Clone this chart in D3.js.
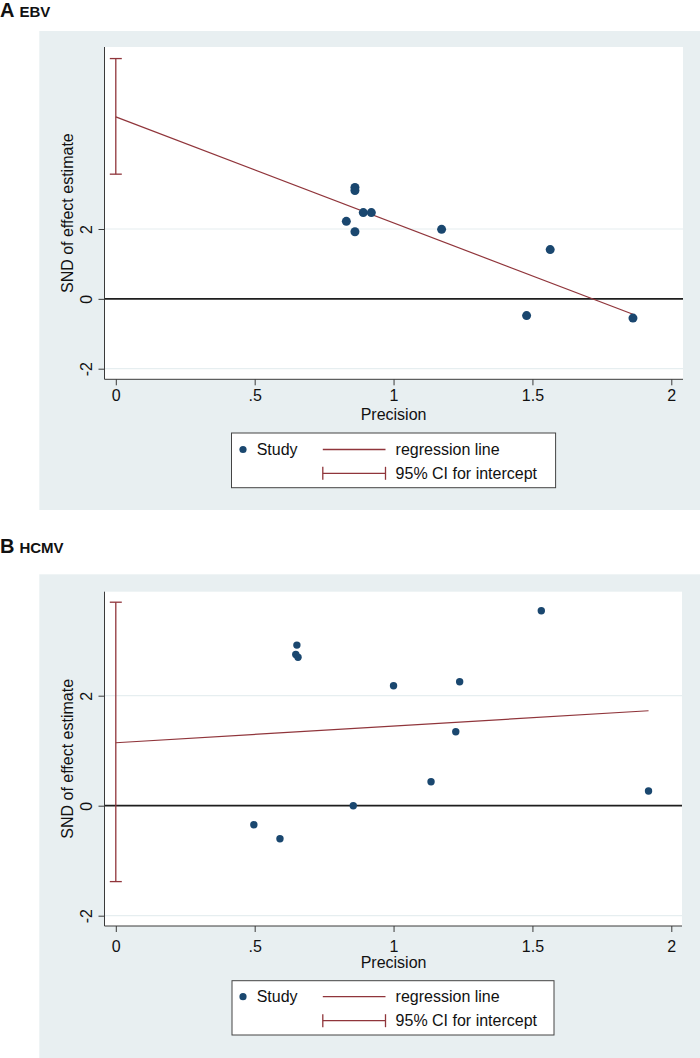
<!DOCTYPE html>
<html>
<head>
<meta charset="utf-8">
<script src="https://cdn.jsdelivr.net/npm/d3@7"></script>
<style>
  html, body { margin: 0; padding: 0; background: #ffffff; }
  svg { display: block; }
  text { font-family: "Liberation Sans", Arial, sans-serif; fill: #111; }
</style>
</head>
<body>
<svg id="chart" width="700" height="1058"></svg>
<script>
// ---------- data ----------
const xTicks = [0, 0.5, 1, 1.5, 2];
const xTickLabels = ["0", ".5", "1", "1.5", "2"];
const yTicks = [-2, 0, 2];
const yTickLabels = ["-2", "0", "2"];

// Panel A: EBV
const ebvPrecision = [0.861, 0.861, 0.891, 0.920, 0.830, 0.861, 1.173, 1.564, 1.479, 1.862];
const ebvSND       = [3.19, 3.10, 2.47, 2.47, 2.22, 1.92, 1.99, 1.41, -0.48, -0.55];
const ebvIntercept = 5.21;
const ebvSlope = -3.035;
const ebvLineRange = [0, 1.862];
const ebvCI = [3.57, 6.88];

// Panel B: HCMV
const hcmvPrecision = [0.497, 0.591, 0.652, 0.648, 0.656, 0.855, 1.000, 1.135, 1.224, 1.238, 1.532, 1.918];
const hcmvSND       = [-0.345, -0.60, 2.92, 2.75, 2.70, 0.00, 2.18, 0.436, 1.345, 2.255, 3.545, 0.267];
const hcmvIntercept = 1.145;
const hcmvSlope = 0.303;
const hcmvLineRange = [0, 1.918];
const hcmvCI = [-1.38, 3.70];

const legendLabels = ["Study", "regression line", "95% CI for intercept"];

// ---------- styles ----------
const navy = "#1a476f";
const maroon = "#90353b";
const bgColor = "#e8eff1";
const gridColor = "#e6eef0";
const axisColor = "#3a3a3a";

const svg = d3.select("#chart");

function drawPanel(cfg) {
  const g = svg.append("g");
  // background region
  g.append("rect").attr("x", cfg.box[0]).attr("y", cfg.box[1])
    .attr("width", cfg.box[2] - cfg.box[0]).attr("height", cfg.box[3] - cfg.box[1])
    .attr("fill", bgColor);
  // plot region
  const pr = cfg.plot; // [x0,y0,x1,y1]
  g.append("rect").attr("x", pr[0]).attr("y", pr[1])
    .attr("width", pr[2] - pr[0]).attr("height", pr[3] - pr[1]).attr("fill", "#ffffff");

  const x = d3.scaleLinear().domain([0, 2]).range([115.8, 671.3]);
  const y = d3.scaleLinear().domain([-2, 2]).range(cfg.yRange);

  // gridlines
  g.selectAll("line.grid").data(yTicks.filter(d => d !== 0)).join("line")
    .attr("class", "grid")
    .attr("x1", pr[0]).attr("x2", pr[2])
    .attr("y1", d => y(d)).attr("y2", d => y(d))
    .attr("stroke", gridColor).attr("stroke-width", 1.2);

  // zero line
  g.append("line").attr("x1", pr[0]).attr("x2", pr[2])
    .attr("y1", y(0)).attr("y2", y(0))
    .attr("stroke", "#1e1e1e").attr("stroke-width", 1.8);

  // axes lines
  g.append("line").attr("x1", pr[0]).attr("x2", pr[0]).attr("y1", pr[1]).attr("y2", pr[3])
    .attr("stroke", axisColor).attr("stroke-width", 1);
  g.append("line").attr("x1", pr[0]).attr("x2", pr[2]).attr("y1", pr[3]).attr("y2", pr[3])
    .attr("stroke", axisColor).attr("stroke-width", 1);

  // x axis
  const xAxis = d3.axisBottom(x).tickValues(xTicks)
    .tickFormat((d, i) => xTickLabels[i]).tickSize(6).tickSizeOuter(0);
  const xg = g.append("g").attr("transform", `translate(0,${pr[3]})`).call(xAxis);
  xg.select(".domain").remove();
  xg.selectAll(".tick line").attr("stroke", axisColor);
  xg.selectAll(".tick text")
    .attr("y", cfg.xLabelBaseline - pr[3]).attr("dy", null)
    .attr("font-size", 16).attr("font-family", "Liberation Sans, Arial, sans-serif")
    .attr("fill", "#111");

  // y axis
  const yAxis = d3.axisLeft(y).tickValues(yTicks)
    .tickFormat((d, i) => yTickLabels[i]).tickSize(6).tickSizeOuter(0);
  const yg = g.append("g").attr("transform", `translate(${pr[0]},0)`).call(yAxis);
  yg.select(".domain").remove();
  yg.selectAll(".tick line").attr("stroke", axisColor);
  yg.selectAll(".tick text")
    .attr("x", null).attr("dy", null)
    .attr("transform", `translate(${91.5 - pr[0]},0) rotate(-90)`)
    .attr("text-anchor", "middle")
    .attr("font-size", 16).attr("font-family", "Liberation Sans, Arial, sans-serif")
    .attr("fill", "#111");

  // axis titles
  g.append("text").attr("x", (x(0) + x(2)) / 2).attr("y", cfg.xTitleBaseline)
    .attr("text-anchor", "middle").attr("font-size", 16).text("Precision");
  g.append("text")
    .attr("transform", `translate(73,${(pr[1] + pr[3]) / 2}) rotate(-90)`)
    .attr("text-anchor", "middle").attr("font-size", 16).text("SND of effect estimate");

  // CI for intercept
  const ci = cfg.ci;
  const capW = 6;
  g.append("line").attr("x1", x(0)).attr("x2", x(0)).attr("y1", y(ci[0])).attr("y2", y(ci[1]))
    .attr("stroke", maroon).attr("stroke-width", 1.3);
  g.selectAll("line.cap").data(ci).join("line").attr("class", "cap")
    .attr("x1", x(0) - capW).attr("x2", x(0) + capW)
    .attr("y1", d => y(d)).attr("y2", d => y(d))
    .attr("stroke", maroon).attr("stroke-width", 1.3);

  // regression line
  const line = d3.line().x(d => x(d)).y(d => y(cfg.intercept + cfg.slope * d));
  g.append("path").datum(cfg.lineRange).attr("d", line)
    .attr("fill", "none").attr("stroke", maroon).attr("stroke-width", 1.2);

  // points
  g.selectAll("circle.pt").data(cfg.px.map((d, i) => [d, cfg.py[i]])).join("circle")
    .attr("class", "pt")
    .attr("cx", d => x(d[0])).attr("cy", d => y(d[1])).attr("r", cfg.r)
    .attr("fill", navy);

  // legend
  const lg = cfg.legend; // [x0,y0,x1,y1,row1,row2]
  g.append("rect").attr("x", lg[0]).attr("y", lg[1])
    .attr("width", lg[2] - lg[0]).attr("height", lg[3] - lg[1])
    .attr("fill", "#ffffff").attr("stroke", "#444").attr("stroke-width", 1);
  const r1 = lg[4], r2 = lg[5];
  g.append("circle").attr("cx", 243).attr("cy", r1).attr("r", 3.6).attr("fill", navy);
  g.append("text").attr("x", 256.7).attr("y", r1 + 5.7).attr("font-size", 16).text(legendLabels[0]);
  g.append("line").attr("x1", 322.8).attr("x2", 385.5).attr("y1", r1).attr("y2", r1)
    .attr("stroke", maroon).attr("stroke-width", 1.3);
  g.append("text").attr("x", 395.6).attr("y", r1 + 5.7).attr("font-size", 16).text(legendLabels[1]);
  g.append("line").attr("x1", 322.8).attr("x2", 385.5).attr("y1", r2).attr("y2", r2)
    .attr("stroke", maroon).attr("stroke-width", 1.3);
  [322.8, 385.5].forEach(cx => {
    g.append("line").attr("x1", cx).attr("x2", cx).attr("y1", r2 - 6.5).attr("y2", r2 + 6.5)
      .attr("stroke", maroon).attr("stroke-width", 1.3);
  });
  g.append("text").attr("x", 395.6).attr("y", r2 + 5.7).attr("font-size", 16).text(legendLabels[2]);

  // panel title
  const t = g.append("text").attr("x", 0).attr("y", cfg.titleBaseline)
    .attr("font-family", "DejaVu Sans, sans-serif").attr("font-weight", "bold").attr("fill", "#000");
  t.append("tspan").attr("font-size", 20).text(cfg.letter);
  t.append("tspan").attr("font-size", 15).attr("dx", 5).text(cfg.name);
}

drawPanel({
  letter: "A", name: "EBV", titleBaseline: 16.8,
  box: [39.3, 31, 700, 510],
  plot: [104.5, 47, 683, 379.3],
  yRange: [368.7, 229],
  xLabelBaseline: 401.5, xTitleBaseline: 420,
  px: ebvPrecision, py: ebvSND, r: 4.5,
  intercept: ebvIntercept, slope: ebvSlope, lineRange: ebvLineRange, ci: ebvCI,
  legend: [231.5, 433, 555.6, 487.7, 449.5, 473.3]
});

drawPanel({
  letter: "B", name: "HCMV", titleBaseline: 552.7,
  box: [39.3, 574.3, 700, 1058],
  plot: [104.5, 591.7, 682, 926],
  yRange: [915.7, 695.7],
  xLabelBaseline: 951.7, xTitleBaseline: 968,
  px: hcmvPrecision, py: hcmvSND, r: 3.7,
  intercept: hcmvIntercept, slope: hcmvSlope, lineRange: hcmvLineRange, ci: hcmvCI,
  legend: [232, 980.7, 554, 1035, 996.7, 1020.7]
});
</script>
</body>
</html>
